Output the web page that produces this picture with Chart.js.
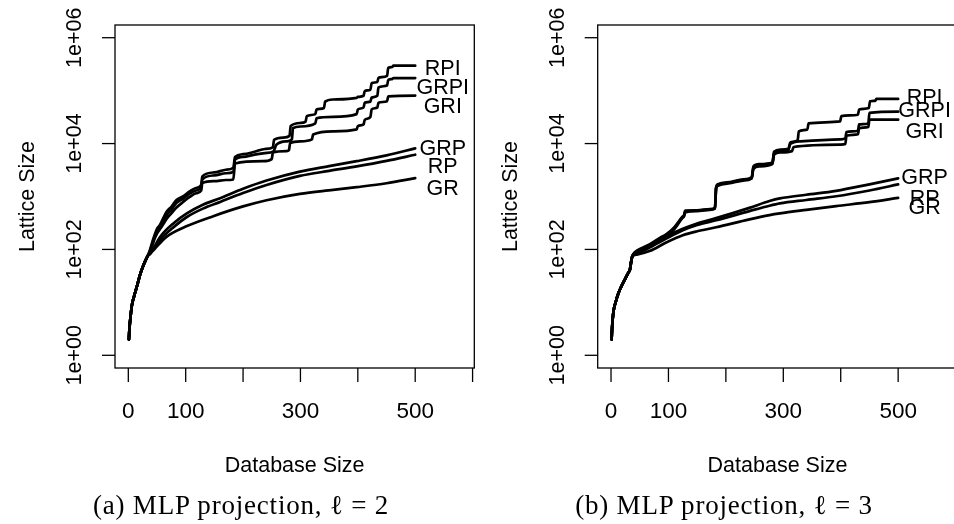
<!DOCTYPE html>
<html lang="en">
<head>
<meta charset="UTF-8">
<title>Lattice Size vs Database Size</title>
<script src="https://cdn.jsdelivr.net/npm/chart.js"></script>
<style>
  html, body { margin: 0; padding: 0; background: #fff; overflow: hidden; width: 954px; height: 524px; }
  .panel { position: absolute; top: 0; }
  #panelA { left: 0; }
  #panelB { left: 477px; }
  .caption {
    position: absolute; top: 492px; line-height: 27px;
    font-family: "Liberation Serif", serif; font-size: 27px; letter-spacing: 0.8px;
    color: #000; white-space: nowrap; transform: translateX(-50%);
  }
</style>
</head>
<body>
<div class="panel" id="panelA"><canvas id="chartA" width="477" height="524"></canvas></div>
<div class="panel" id="panelB"><canvas id="chartB" width="483" height="524"></canvas></div>
<div class="caption" style="left:241px">(a) MLP projection, ℓ = 2</div>
<div class="caption" style="left:724px">(b) MLP projection, ℓ = 3</div>

<script>
// ---- data, [database size, lattice size] ----
const seriesNames = ['RPI', 'GRPI', 'GRI', 'GRP', 'RP', 'GR'];

const startA = [[1,2],[2,3.2],[4,5.5],[6,8.5],[10,13],[15,20],[20,32],[25,46],[30,62],[34,76]];
const aRPI = [[38,100],[42,140],[46,190],[50,245],[55,290],[60,370],[67,520],[75,640],[84,860],[95,1000],[107,1250],[118,1450],[127,1650],[129,2400],[150,2850],[170,3200],[183,3500],[186,5600],[200,6300],[220,7000],[238,7900],[252,8500],[254,11800],[270,13000],[281,14000],[283,21500],[300,24500],[309,26000],[311,33000],[326,36000],[328,44000],[341,47000],[343,62000],[357,68000],[398,73000],[400,76000],[410,80000],[412,98000],[422,105000],[424,138000],[434,145000],[436,175000],[451,190000],[453,270000],[460,280000],[462,296000],[500,296000]];
const aGRPI = [[38,95],[42,130],[46,175],[50,220],[55,265],[60,330],[67,450],[75,560],[84,760],[95,900],[107,1130],[118,1300],[127,1500],[129,2100],[150,2500],[170,2750],[183,2900],[186,5000],[200,5600],[220,6200],[238,6600],[252,7000],[254,7400],[258,9500],[276,11000],[285,12000],[287,19500],[300,21000],[326,24000],[328,30000],[357,32000],[398,36000],[400,44000],[410,48000],[412,59000],[422,62000],[424,74000],[434,80000],[436,115000],[451,125000],[453,160000],[460,165000],[462,173000],[500,173000]];
const aGRI = [[38,90],[42,120],[46,160],[50,200],[55,240],[60,290],[67,380],[75,480],[84,620],[95,780],[107,980],[118,1150],[127,1300],[129,1800],[150,1950],[170,2050],[183,2100],[186,4200],[235,4650],[250,5100],[252,6800],[276,7200],[280,7500],[282,10200],[300,11000],[320,12000],[322,14800],[357,17000],[398,18500],[400,21400],[410,23000],[412,28000],[422,32000],[424,44000],[434,48000],[436,59000],[451,63000],[453,78000],[500,80500]];
const aGRP = [[38,84],[45,110],[55,170],[80,320],[102,480],[130,700],[160,930],[200,1400],[241,2000],[299,2950],[350,3750],[398,4650],[450,6000],[500,8100]];
const aRP = [[38,82],[45,105],[55,150],[80,270],[102,410],[130,590],[160,790],[200,1160],[241,1650],[299,2450],[350,3050],[398,3700],[450,4700],[500,6150]];
const aGR = [[40,88],[45,100],[67,175],[100,270],[148,425],[200,650],[241,850],[299,1120],[357,1330],[398,1500],[450,1780],[500,2220]];

const startB = [[1,2],[2,3.5],[4,6.4],[8,10],[13,15],[18,20],[24,27],[30,36],[33,42],[35,58],[37,74]];
const bRPI = [[40,85],[45,95],[67,124],[85,165],[96,192],[110,260],[124,410],[127,440],[129,540],[150,550],[172,580],[181,610],[183,1500],[186,1700],[210,1900],[230,2100],[245,2300],[248,3700],[258,4100],[281,4400],[284,7000],[295,7700],[309,8000],[312,10500],[325,11500],[327,17000],[342,18500],[344,24000],[399,26300],[401,33000],[430,35000],[432,44000],[449,47000],[451,63000],[460,64000],[462,69600],[500,69600]];
const bGRPI = [[40,83],[45,92],[67,120],[85,158],[96,185],[110,250],[124,400],[127,430],[129,520],[150,540],[172,570],[181,600],[183,1450],[186,1650],[210,1850],[230,2050],[245,2250],[248,3500],[258,3900],[281,4300],[284,6600],[295,7300],[309,7600],[312,9800],[330,11000],[400,12000],[408,12500],[410,16500],[430,17500],[432,23000],[448,24000],[450,38000],[500,40000]];
const bGRI = [[40,82],[45,90],[67,118],[85,155],[96,180],[110,240],[124,390],[127,420],[129,500],[150,530],[172,560],[181,590],[183,1400],[186,1600],[210,1800],[230,2000],[245,2200],[248,3300],[258,3700],[281,4100],[284,6200],[295,6800],[315,7200],[318,8600],[400,9550],[408,9800],[410,14000],[430,15000],[432,19500],[448,20500],[450,28300],[500,28300]];
const bGRP = [[45,86],[67,115],[96,175],[125,245],[150,310],[183,390],[241,610],[276,820],[294,920],[340,1080],[392,1280],[450,1700],[500,2200]];
const bRP = [[45,84],[67,108],[96,160],[125,230],[150,290],[183,355],[241,530],[276,670],[294,740],[340,860],[392,1010],[450,1300],[500,1690]];
const bGR = [[45,80],[67,93],[96,135],[125,185],[150,220],[183,262],[241,370],[276,445],[294,480],[340,560],[392,660],[450,780],[500,940]];

// axis ticks
const xTicks = [0, 100, 200, 300, 400, 500, 600];
const xTickLabels = ['0', '100', '', '300', '', '500', ''];
const yTicks = [1, 100, 10000, 1000000];
const yTickLabels = ['1e+00', '1e+02', '1e+04', '1e+06'];

// where the curve names are written (x, lattice size)
const labelXA = 548;
const labelYA = [271600, 118900, 52100, 8410, 3850, 1480];
const labelXB = 546;
const labelYB = [78000, 43650, 17380, 2380, 977, 656];

const SANS = '21.5px "Liberation Sans", Arial, sans-serif';

// R style box, ticks and text
const rAxes = {
  id: 'rAxes',
  afterDraw(chart, args, opts) {
    const ctx = chart.ctx;
    const a = chart.chartArea;
    const xs = chart.scales.x, ys = chart.scales.y;
    ctx.save();
    ctx.strokeStyle = '#000';
    ctx.fillStyle = '#000';
    ctx.lineWidth = 1.3;
    ctx.strokeRect(a.left, a.top, a.right - a.left, a.bottom - a.top);
    ctx.font = SANS;

    // y axis
    yTicks.forEach((v, i) => {
      const py = ys.getPixelForValue(v);
      ctx.beginPath();
      ctx.moveTo(a.left - 13, py);
      ctx.lineTo(a.left, py);
      ctx.stroke();
      ctx.save();
      ctx.translate(a.left - 34, py);
      ctx.rotate(-Math.PI / 2);
      ctx.textAlign = 'center';
      ctx.textBaseline = 'alphabetic';
      ctx.fillText(yTickLabels[i], 0, 0);
      ctx.restore();
    });

    // x axis
    ctx.textAlign = 'center';
    ctx.textBaseline = 'alphabetic';
    ctx.font = '22.5px "Liberation Sans", Arial, sans-serif';
    xTicks.forEach((v, i) => {
      const px = xs.getPixelForValue(v);
      ctx.beginPath();
      ctx.moveTo(px, a.bottom);
      ctx.lineTo(px, a.bottom + 14);
      ctx.stroke();
      if (xTickLabels[i]) ctx.fillText(xTickLabels[i], px, a.bottom + 50);
    });

    // titles
    ctx.font = SANS;
    ctx.fillText('Database Size', (a.left + a.right) / 2, a.bottom + 104);
    ctx.save();
    ctx.translate(a.left - 81, (a.top + a.bottom) / 2);
    ctx.rotate(-Math.PI / 2);
    ctx.fillText('Lattice Size', 0, 0);
    ctx.restore();

    // curve names
    seriesNames.forEach((name, i) => {
      const px = xs.getPixelForValue(opts.labelX);
      const py = ys.getPixelForValue(opts.labelY[i]);
      ctx.fillText(name, px, py + 7.5);
    });
    ctx.restore();
  }
};

function makeChart(id, start, series, labelX, labelY, pad) {
  return new Chart(document.getElementById(id), {
    type: 'line',
    data: {
      datasets: series.map((pts, i) => ({
        label: seriesNames[i],
        data: start.concat(pts).map(p => ({ x: p[0], y: p[1] })),
        borderColor: '#000',
        borderWidth: 2.7,
        borderJoinStyle: 'round',
        borderCapStyle: 'round',
        cubicInterpolationMode: 'monotone',
        pointRadius: 0,
        fill: false
      }))
    },
    options: {
      responsive: false,
      animation: false,
      layout: { padding: pad },
      plugins: {
        legend: { display: false },
        tooltip: { enabled: false },
        rAxes: { labelX: labelX, labelY: labelY }
      },
      scales: {
        x: { type: 'linear', display: false, min: -23.2, max: 603 },
        y: { type: 'logarithmic', display: false, min: Math.pow(10, -0.24), max: Math.pow(10, 6.24) }
      }
    },
    plugins: [rAxes]
  });
}

makeChart('chartA', startA, [aRPI, aGRPI, aGRI, aGRP, aRP, aGR], labelXA, labelYA,
  { left: 115, top: 25, right: 2.7, bottom: 156 });
makeChart('chartB', startB, [bRPI, bGRPI, bGRI, bGRP, bRP, bGR], labelXB, labelYB,
  { left: 120.7, top: 25, right: 2.7, bottom: 156 });
</script>
</body>
</html>
